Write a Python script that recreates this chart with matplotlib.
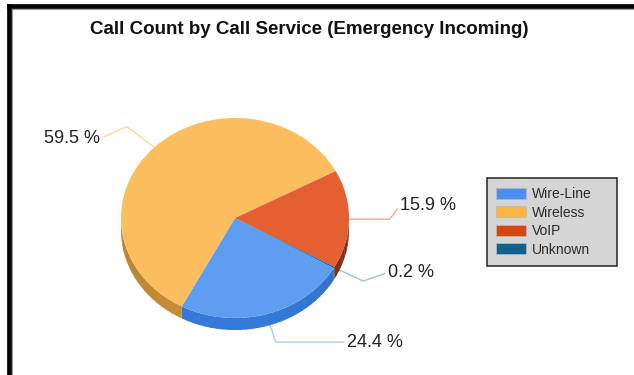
import matplotlib.pyplot as plt
from matplotlib.patches import Patch, Polygon
import matplotlib.colors as mcolors
import numpy as np

# data
services = ["Wire-Line", "Wireless", "VoIP", "Unknown"]
shares = [24.4, 59.5, 15.9, 0.2]
pct_labels = ["24.4 %", "59.5 %", "15.9 %", "0.2 %"]

top_colors = ["#5e9ef0", "#fcbd5e", "#e45f32", "#11618f"]
side_colors = ["#3478d4", "#c88c35", "#8f2e12", "#0c4a70"]
legend_colors = ["#4a8fef", "#fbb545", "#db4310", "#11618f"]
line_colors = ["#a9cdf3", "#fdd6a0", "#f4a890", "#9ec3d8"]

plt.rcParams["font.family"] = ["Liberation Sans", "DejaVu Sans"]

W, H = 634, 375
fig = plt.figure(figsize=(W / 100, H / 100), dpi=100)

# pie ellipse: center (235,218) px, rx 114, ry 100, depth 12 px
cx, cy, rx, ry, depth = 235, 218, 114, 100, 12
d = depth / ry
ax = fig.add_axes([(cx - rx) / W, (H - (cy + ry + depth)) / H,
                   2 * rx / W, (2 * ry + depth) / H])
wedges, _ = ax.pie(shares, colors=top_colors, startangle=-30,
                   counterclock=False, wedgeprops=dict(linewidth=0))
ax.set_aspect("auto")
ax.set_xlim(-1, 1)
ax.set_ylim(-1 - d, 1)
ax.axis("off")

# side of the disc (lower half only), lightly shaded toward the front
for w, sc in zip(wedges, side_colors):
    base = np.array(mcolors.to_rgb(sc))
    t1, t2 = w.theta1, w.theta2
    shift = np.floor(t1 / 360.0) * 360
    t1, t2 = t1 - shift, t2 - shift
    for lo, hi in [(180, 360), (540, 720)]:
        a, b = max(t1, lo), min(t2, hi)
        if b <= a:
            continue
        n = max(2, int((b - a) / 3) + 1)
        edges = np.linspace(a, b, n)
        for e0, e1 in zip(edges[:-1], edges[1:]):
            th = np.radians(np.linspace(e0, min(e1 + 0.6, b), 5))
            xs, ys = np.cos(th), np.sin(th)
            pts = np.vstack([np.column_stack([xs, ys]),
                             np.column_stack([xs[::-1], ys[::-1] - d])])
            shade = 0.88 + 0.14 * (-np.sin(np.radians((e0 + e1) / 2)))
            col = np.clip(base * shade, 0, 1)
            ax.add_patch(Polygon(pts, closed=True, facecolor=col,
                                 edgecolor="none", lw=0, zorder=0.8))

# labels with leader lines: (text offset px, ha, angleA, angleB)
label_style = {
    "Wire-Line": ((80, -28), "left", 0, 108),
    "Wireless": ((-54, 9), "right", 24, 143),
    "VoIP": ((51, 14), "left", 54, 0),
    "Unknown": ((54, -5), "left", 19, 155),
}
for w, name, lab, lc in zip(wedges, services, pct_labels, line_colors):
    mid = np.radians((w.theta1 + w.theta2) / 2)
    off, ha, aA, aB = label_style[name]
    ax.annotate(lab, xy=(np.cos(mid), np.sin(mid)), xycoords="data",
                xytext=off, textcoords="offset pixels", ha=ha, va="center",
                fontsize=13, color="#222222", zorder=0.5,
                arrowprops=dict(arrowstyle="-", color=lc, lw=1,
                                shrinkA=0, shrinkB=0,
                                relpos=(0 if ha == "left" else 1, 0.5),
                                connectionstyle=f"angle,angleA={aA},angleB={aB},rad=0"))

# overlay in pixel coordinates for frame
ov = fig.add_axes([0, 0, 1, 1], zorder=-1)
ov.set_xlim(0, W)
ov.set_ylim(H, 0)
ov.axis("off")
ov.plot([9, 9], [H, 6], color="black", lw=3.4, solid_capstyle="projecting")
ov.plot([9, W], [6, 6], color="black", lw=3.4, solid_capstyle="projecting")
ov.plot([11.5, 11.5], [H, 8.5], color="#999999", lw=0.8)
ov.plot([11.5, W], [8.5, 8.5], color="#999999", lw=0.8)

fig.text(309 / W, 1 - 30 / H, "Call Count by Call Service (Emergency Incoming)",
         ha="center", va="center", fontsize=13.5, fontweight="bold", color="#111111")

handles = [Patch(facecolor=c, edgecolor="#bbbbbb", lw=0.5) for c in legend_colors]
leg = fig.legend(handles, services, loc="upper left",
                 bbox_to_anchor=(487 / W, 1 - 178 / H, 130 / W, 0.0001),
                 mode="expand", borderaxespad=0, fontsize=10,
                 handlelength=2.15, handleheight=0.85, handletextpad=0.45,
                 labelspacing=0.33, borderpad=0.65, fancybox=False,
                 frameon=True, labelcolor="#2a2a2a")
leg.get_frame().set_facecolor("#d5d5d5")
leg.get_frame().set_edgecolor("#333333")
leg.get_frame().set_linewidth(1.2)
leg.get_frame().set_alpha(1)

fig.savefig("out.png", dpi=100)
